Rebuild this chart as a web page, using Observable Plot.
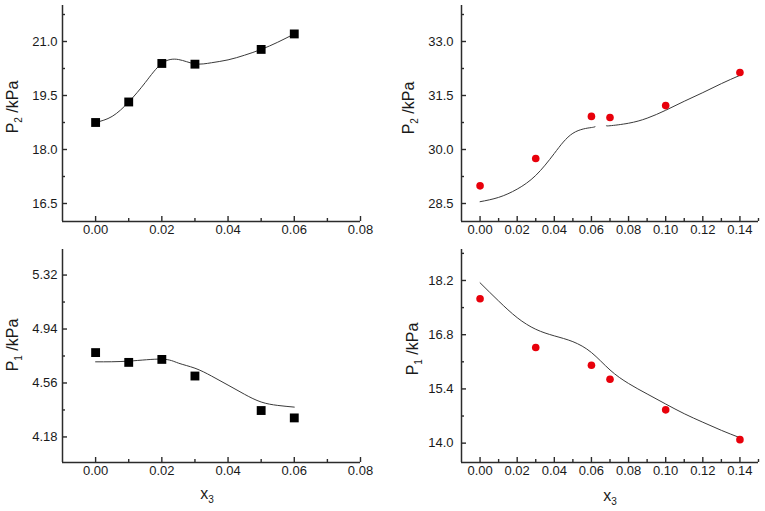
<!DOCTYPE html>
<html><head><meta charset="utf-8">
<script src="https://cdn.jsdelivr.net/npm/d3@7"></script>
<script src="https://cdn.jsdelivr.net/npm/@observablehq/plot@0.6"></script>
<style>
body{margin:0;background:#fff;}
#wrap{position:relative;width:765px;height:511px;overflow:hidden;background:#fff;}
</style></head><body><div id="wrap"></div>
<script>
// ---- measured data (x3 = mole fraction) ----
const x3_a = [0, 0.01, 0.02, 0.03, 0.05, 0.06];
const p2_a = [18.75, 19.32, 20.39, 20.37, 20.78, 21.21];
const p1_a = [4.774, 4.705, 4.726, 4.609, 4.366, 4.314];

const x3_b = [0, 0.03, 0.06, 0.07, 0.10, 0.14];
const p2_b = [28.99, 29.75, 30.92, 30.89, 31.22, 32.14];
const p1_b = [17.73, 16.47, 16.01, 15.65, 14.86, 14.09];

// ---- fitted curves ----
const fitX_a2 = [0, 0.005, 0.01, 0.015, 0.02, 0.025, 0.03, 0.035, 0.04, 0.045, 0.05, 0.055, 0.06];
const fitP2_a = [18.75, 18.92, 19.32, 19.86, 20.39, 20.50, 20.38, 20.41, 20.49, 20.62, 20.78, 20.98, 21.21];
const fitX_a1 = [0, 0.01, 0.02, 0.025, 0.03, 0.035, 0.04, 0.045, 0.05, 0.055, 0.06];
const fitP1_a = [4.709, 4.714, 4.728, 4.70, 4.664, 4.609, 4.545, 4.48, 4.426, 4.402, 4.39];
const fitX_b2 = [0, 0.01, 0.02, 0.03, 0.04, 0.05, 0.06, 0.062, 0.065, 0.068, 0.07, 0.08, 0.09, 0.10, 0.11, 0.12, 0.13, 0.14];
const fitP2_b = [28.55, 28.67, 28.90, 29.28, 29.89, 30.45, 30.61, 30.64, NaN, 30.66, 30.66, 30.73, 30.87, 31.09, 31.34, 31.58, 31.83, 32.06];
const fitX_b1 = [0, 0.01, 0.02, 0.03, 0.04, 0.05, 0.06, 0.07, 0.08, 0.09, 0.10, 0.11, 0.12, 0.13, 0.14];
const fitP1_b = [18.14, 17.67, 17.24, 16.94, 16.77, 16.62, 16.34, 15.89, 15.54, 15.27, 15.01, 14.76, 14.54, 14.33, 14.14];

// ---- ticks ----
const xTicksA = [0, 0.02, 0.04, 0.06, 0.08];
const xMinorA = [0.01, 0.03, 0.05, 0.07];
const xTicksB = [0, 0.02, 0.04, 0.06, 0.08, 0.10, 0.12, 0.14];
const xMinorB = [0.01, 0.03, 0.05, 0.07, 0.09, 0.11, 0.13, 0.15];
const yTicksTL = [16.5, 18.0, 19.5, 21.0];
const yMinorTL = [17.25, 18.75, 20.25, 21.75];
const yTicksTR = [28.5, 30.0, 31.5, 33.0];
const yMinorTR = [29.25, 30.75, 32.25, 33.75];
const yTicksBL = [4.18, 4.56, 4.94, 5.32];
const yMinorBL = [4.37, 4.75, 5.13];
const yTicksBR = [14.0, 15.4, 16.8, 18.2];
const yMinorBR = [14.7, 16.1, 17.5, 18.9];

const FONT = "Arial, 'Liberation Sans', sans-serif";
const AX = "#2b2b2b";
const TXT = "#1a1a1a";
const zip = (xs, ys) => xs.map((x, i) => ({x, y: ys[i]}));

function panel(o) {
  const pw = o.width - o.ml - o.mr, ph = o.height - o.mt - o.mb;
  const svg = Plot.plot({
    width: o.width, height: o.height,
    marginLeft: o.ml, marginRight: o.mr, marginTop: o.mt, marginBottom: o.mb,
    style: {fontFamily: FONT, fontSize: "13px", color: TXT, background: "transparent", overflow: "visible"},
    x: {domain: o.xDomain},
    y: {domain: o.yDomain},
    marks: [
      Plot.tickX(o.xT, {x: d => d, insetTop: ph - 5, stroke: AX, strokeWidth: 1.4}),
      Plot.tickX(o.xM, {x: d => d, insetTop: ph - 3, stroke: AX, strokeWidth: 1.4}),
      Plot.tickY(o.yT, {y: d => d, insetRight: pw - 5, stroke: AX, strokeWidth: 1.4}),
      Plot.tickY(o.yM, {y: d => d, insetRight: pw - 3, stroke: AX, strokeWidth: 1.4}),
      Plot.ruleX([o.xDomain[0]], {stroke: AX, strokeWidth: 1.5}),
      Plot.ruleY([o.yDomain[0]], {stroke: AX, strokeWidth: 1.5}),
      Plot.axisX({ticks: o.xT, tickSize: 0, tickPadding: 3, tickFormat: d3.format(".2f"), label: null, fontSize: 13, fill: TXT}),
      Plot.axisY({ticks: o.yT, tickSize: 0, tickPadding: o.yPad, tickFormat: d3.format(o.yFmt), label: null, fontSize: 13, fill: TXT}),
      Plot.line(o.fit, {x: "x", y: "y", curve: "natural", stroke: "#3a3a3a", strokeWidth: 1}),
      Plot.dot(o.pts, {x: "x", y: "y", symbol: o.symbol, r: o.r, fill: o.fill, stroke: "none"})
    ]
  });
  svg.style.position = "absolute";
  svg.style.left = o.left + "px";
  svg.style.top = o.top + "px";
  const s = d3.select(svg);
  // y label with subscript
  const yl = s.append("text")
    .attr("transform", `translate(${o.ylx},${o.yly}) rotate(-90)`)
    .attr("text-anchor", "middle")
    .attr("font-family", FONT).attr("font-size", 16).attr("fill", TXT);
  yl.append("tspan").text("P");
  yl.append("tspan").attr("font-size", 10).attr("dy", 4).text(o.sub);
  yl.append("tspan").attr("dy", -4).text(" /kPa");
  if (o.xlab) {
    const xl = s.append("text")
      .attr("x", o.xlx).attr("y", o.xly)
      .attr("text-anchor", "middle")
      .attr("font-family", FONT).attr("font-size", 16).attr("fill", TXT);
    xl.append("tspan").text("x");
    xl.append("tspan").attr("font-size", 10).attr("dy", 4).text("3");
  }
  document.getElementById("wrap").appendChild(svg);
}

// top-left
panel({left: 0, top: 0, width: 380, height: 250, ml: 62, mr: 20, mt: 5, mb: 29,
  xDomain: [-0.01, 0.08], yDomain: [16.0, 22.0], xT: xTicksA, xM: xMinorA, yT: yTicksTL, yM: yMinorTL,
  yFmt: ".1f", yPad: 5, fit: zip(fitX_a2, fitP2_a), pts: zip(x3_a, p2_a), symbol: "square", r: 5, fill: "#000",
  sub: "2", ylx: 18, yly: 107});
// top-right
panel({left: 385, top: 0, width: 380, height: 250, ml: 76, mr: 7, mt: 5, mb: 29,
  xDomain: [-0.01, 0.15], yDomain: [28.0, 34.0], xT: xTicksB, xM: xMinorB, yT: yTicksTR, yM: yMinorTR,
  yFmt: ".1f", yPad: 8, fit: zip(fitX_b2, fitP2_b), pts: zip(x3_b, p2_b), symbol: "circle", r: 3.8, fill: "#e8000b",
  sub: "2", ylx: 29, yly: 108});
// bottom-left
panel({left: 0, top: 240, width: 380, height: 271, ml: 62, mr: 20, mt: 9, mb: 49,
  xDomain: [-0.01, 0.08], yDomain: [4.0, 5.5], xT: xTicksA, xM: xMinorA, yT: yTicksBL, yM: yMinorBL,
  yFmt: ".2f", yPad: 5, fit: zip(fitX_a1, fitP1_a), pts: zip(x3_a, p1_a), symbol: "square", r: 5, fill: "#000",
  sub: "1", ylx: 18, yly: 105, xlab: true, xlx: 207, xly: 259});
// bottom-right
panel({left: 385, top: 240, width: 380, height: 271, ml: 76, mr: 7, mt: 9, mb: 49,
  xDomain: [-0.01, 0.15], yDomain: [13.5, 19.0], xT: xTicksB, xM: xMinorB, yT: yTicksBR, yM: yMinorBR,
  yFmt: ".1f", yPad: 8, fit: zip(fitX_b1, fitP1_b), pts: zip(x3_b, p1_b), symbol: "circle", r: 3.8, fill: "#e8000b",
  sub: "1", ylx: 33, yly: 109, xlab: true, xlx: 225, xly: 261});
</script></body></html>
